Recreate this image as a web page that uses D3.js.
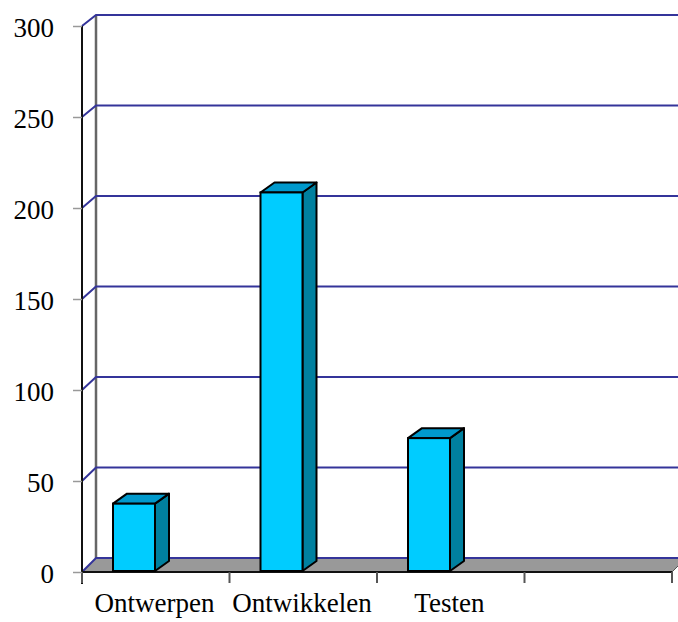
<!DOCTYPE html>
<html>
<head>
<meta charset="utf-8">
<script src="https://cdn.jsdelivr.net/npm/d3@7"></script>
<style>
  html, body { margin: 0; padding: 0; background: #fff; }
  svg { display: block; }
  .axis text { font-family: "Liberation Serif", "Times New Roman", serif; font-size: 27px; fill: #000; }
</style>
</head>
<body>
<svg id="chart" width="678" height="622"></svg>
<script>
// datos del grafico
const categories = ["Ontwerpen", "Ontwikkelen", "Testen", ""];
const values = [37, 208, 73];
const yTicks = [0, 50, 100, 150, 200, 250, 300];

const svg = d3.select("#chart");

// plano frontal y plano trasero (efecto 3D)
const x = d3.scaleBand().domain(categories).range([82, 672]);
const yFront = d3.scaleLinear().domain([0, 300]).range([572, 26]);
const yBack = d3.scaleLinear().domain([0, 300]).range([558, 15]);
const yBar = d3.scaleLinear().domain([0, 300]).range([571, 25]);
const depthX = 14;
const barW = 42, barOff = 31, barDx = 14, barDy = 10;

const rightEnd = x.range()[1];

// pared lateral (linea trasera)
svg.append("line")
    .attr("x1", x.range()[0] + depthX).attr("x2", x.range()[0] + depthX)
    .attr("y1", yBack(300)).attr("y2", yBack(0))
    .style("stroke", "#666").style("stroke-width", 2.5);

// suelo gris
svg.append("path")
    .attr("d", `M${x.range()[0]},${yFront(0)} L${rightEnd},${yFront(0)} L${rightEnd + depthX},${yBack(0)} L${x.range()[0] + depthX},${yBack(0)} Z`)
    .style("fill", "#999999")
    .style("stroke", "#555").style("stroke-width", 1);

// lineas de cuadricula (pared trasera + diagonal en la pared lateral)
const grid = svg.append("g");
yTicks.forEach(v => {
    grid.append("polyline")
        .attr("points", `${x.range()[0]},${yFront(v)} ${x.range()[0] + depthX},${yBack(v)} ${rightEnd + depthX + 20},${yBack(v)}`)
        .style("fill", "none")
        .style("stroke", "#34349a")
        .style("stroke-width", 2);
});

// borde frontal del suelo
svg.append("line")
    .attr("x1", x.range()[0]).attr("x2", rightEnd)
    .attr("y1", yFront(0)).attr("y2", yFront(0))
    .style("stroke", "#111").style("stroke-width", 2);

// eje vertical frontal
svg.append("line")
    .attr("x1", x.range()[0]).attr("x2", x.range()[0])
    .attr("y1", yFront(300)).attr("y2", yFront(0) + 12)
    .style("stroke", "#111").style("stroke-width", 2);

// marcas del eje X en los limites de categoria
const bounds = categories.map(c => x(c)).concat([rightEnd]);
svg.selectAll(".xtick")
    .data(bounds)
    .enter()
    .append("line")
    .attr("class", "xtick")
    .attr("x1", d => d).attr("x2", d => d)
    .attr("y1", yFront(0)).attr("y2", yFront(0) + 11)
    .style("stroke", "#555").style("stroke-width", 2);

// eje Y con etiquetas
const yAxis = svg.append("g")
    .attr("class", "axis")
    .attr("transform", `translate(${x.range()[0]},0)`)
    .call(d3.axisLeft(yFront).tickValues(yTicks).tickSize(9).tickPadding(19));
yAxis.select(".domain").remove();
yAxis.selectAll(".tick line").style("stroke", "#999").style("stroke-width", 1.5);
yAxis.selectAll(".tick text").attr("dy", "0.4em");

// eje X con etiquetas
const xAxis = svg.append("g")
    .attr("class", "axis")
    .attr("transform", `translate(0,${yFront(0)})`)
    .call(d3.axisBottom(x).tickSize(0).tickPadding(21));
xAxis.select(".domain").remove();
xAxis.selectAll(".tick text").attr("dx", "-0.05em");

// barras 3D
const bars = svg.selectAll(".bar")
    .data(values)
    .enter()
    .append("g")
    .attr("class", "bar");

bars.each(function (v, i) {
    const g = d3.select(this);
    const x0 = x(categories[i]) + barOff;
    const x1 = x0 + barW;
    const yt = yBar(v), yb = yBar(0);
    // cara lateral
    g.append("path")
        .attr("d", `M${x1},${yt} L${x1 + barDx},${yt - barDy} L${x1 + barDx},${yb - barDy} L${x1},${yb} Z`)
        .style("fill", "#00809f").style("stroke", "#000").style("stroke-width", 2).style("stroke-linejoin", "round");
    // cara superior
    g.append("path")
        .attr("d", `M${x0},${yt} L${x0 + barDx},${yt - barDy} L${x1 + barDx},${yt - barDy} L${x1},${yt} Z`)
        .style("fill", "#0099cc").style("stroke", "#000").style("stroke-width", 2).style("stroke-linejoin", "round");
    // cara frontal
    g.append("rect")
        .attr("x", x0).attr("y", yt)
        .attr("width", barW).attr("height", yb - yt)
        .style("fill", "#00ccff").style("stroke", "#000").style("stroke-width", 2);
});
</script>
</body>
</html>
